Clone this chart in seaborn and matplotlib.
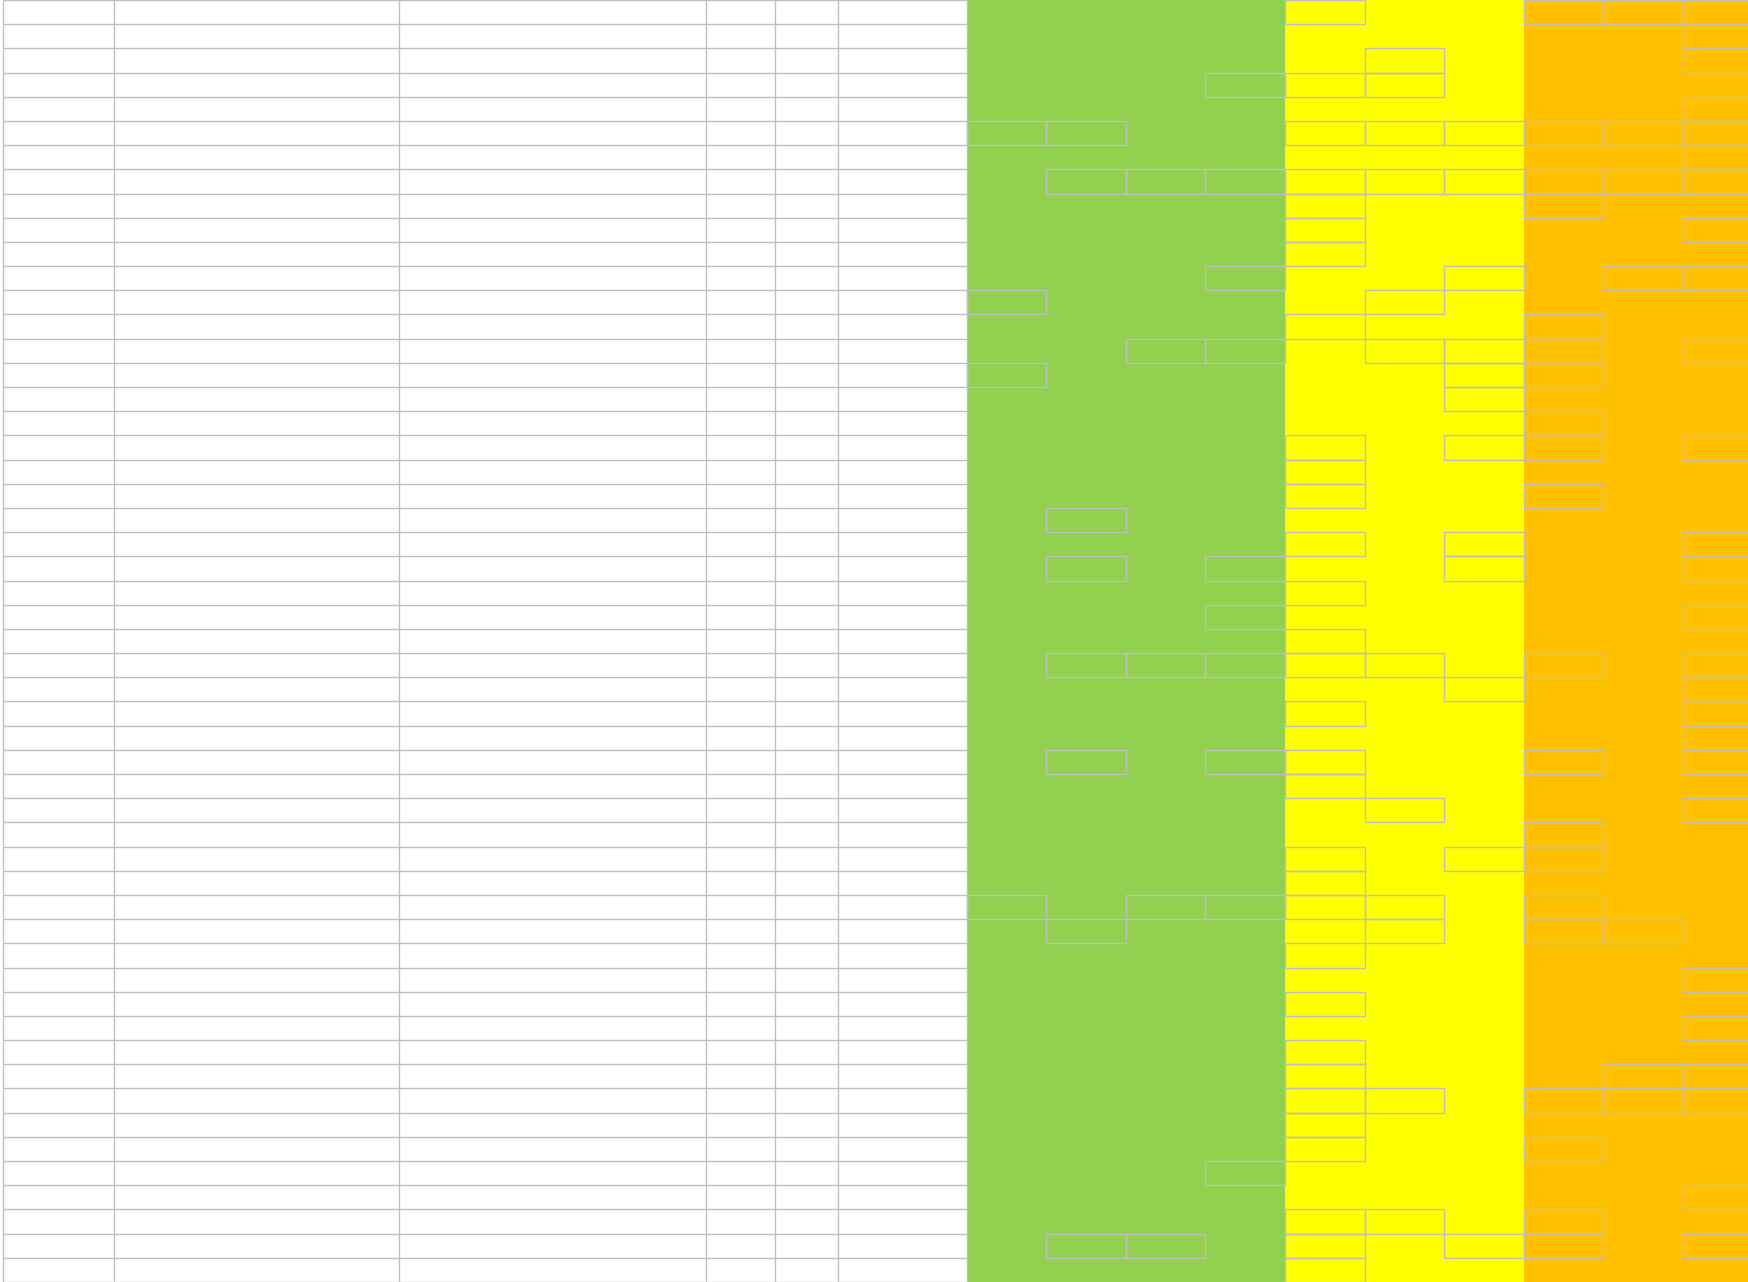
import numpy as np
import matplotlib
matplotlib.use('Agg')
import matplotlib.pyplot as plt
from matplotlib.colors import ListedColormap
from matplotlib.patches import Rectangle
import seaborn as sns

n_rows = 53

# plain (white) part of the sheet: column widths in px
plain_widths = [111, 285, 307, 69, 63, 129]

# coloured part: zone of each column (0 green, 1 yellow, 2 orange)
zones = [0, 0, 0, 0, 1, 1, 1, 2, 2, 2]
zone_colors = ['#92D050', '#FFFF00', '#FFC000']

# coloured cells that carry a border, listed per row
bordered = [
    [4, 7, 8, 9],
    [9],
    [5, 9],
    [3, 4, 5],
    [9],
    [0, 1, 4, 5, 6, 7, 8, 9],
    [9],
    [1, 2, 3, 4, 5, 6, 7, 8, 9],
    [4, 7],
    [4, 9],
    [4],
    [3, 6, 8, 9],
    [0, 5],
    [4, 7],
    [2, 3, 5, 6, 7, 9],
    [0, 6, 7],
    [6],
    [7],
    [4, 6, 7, 9],
    [4],
    [4, 7],
    [1],
    [4, 6, 9],
    [1, 3, 6, 9],
    [4],
    [3, 9],
    [4],
    [1, 2, 3, 4, 5, 7, 9],
    [6, 9],
    [4, 9],
    [9],
    [1, 3, 4, 7, 9],
    [4],
    [5, 9],
    [7],
    [4, 6, 7],
    [4],
    [0, 2, 3, 4, 5, 7],
    [1, 5, 7, 8],
    [4],
    [9],
    [4],
    [9],
    [4],
    [4, 8, 9],
    [4, 5, 7, 8, 9],
    [4],
    [4, 7],
    [3],
    [9],
    [4, 5, 7],
    [1, 2, 4, 6, 7, 9],
    [4],
]

grid_gray = '#BFBFBF'
lw = 1.0

sns.set_style('white')

W, H = 1749, 1282
fig = plt.figure(figsize=(W / 100, H / 100), dpi=100)

# coloured block as a seaborn heatmap, 79.6 px per column
x0 = 966.7
col_w = 79.6
ax_r = fig.add_axes([x0 / W, 0, col_w * len(zones) / W, 1])
zone_mat = np.tile(zones, (n_rows, 1))
sns.heatmap(zone_mat, cmap=ListedColormap(zone_colors), vmin=-0.5, vmax=2.5,
            cbar=False, xticklabels=False, yticklabels=False, ax=ax_r)
for r, cols in enumerate(bordered):
    for c in cols:
        ax_r.add_patch(Rectangle((c, r), 1, 1, fill=False, ec=grid_gray,
                                 lw=lw, clip_on=False))
ax_r.axis('off')

# plain table on the left
ax_l = fig.add_axes([2.7 / W, 0, (x0 - 2.7) / W, 1])
ax_l.set_zorder(2)
edges = np.concatenate([[0], np.cumsum(plain_widths)])
ax_l.vlines(edges, 0, n_rows, color=grid_gray, lw=lw, clip_on=False)
ax_l.hlines(np.arange(n_rows + 1), 0, edges[-1], color=grid_gray, lw=lw,
            clip_on=False)
ax_l.set_xlim(0, edges[-1])
ax_l.set_ylim(n_rows, 0)
ax_l.axis('off')

fig.savefig('out.png', dpi=100)
plt.close()
